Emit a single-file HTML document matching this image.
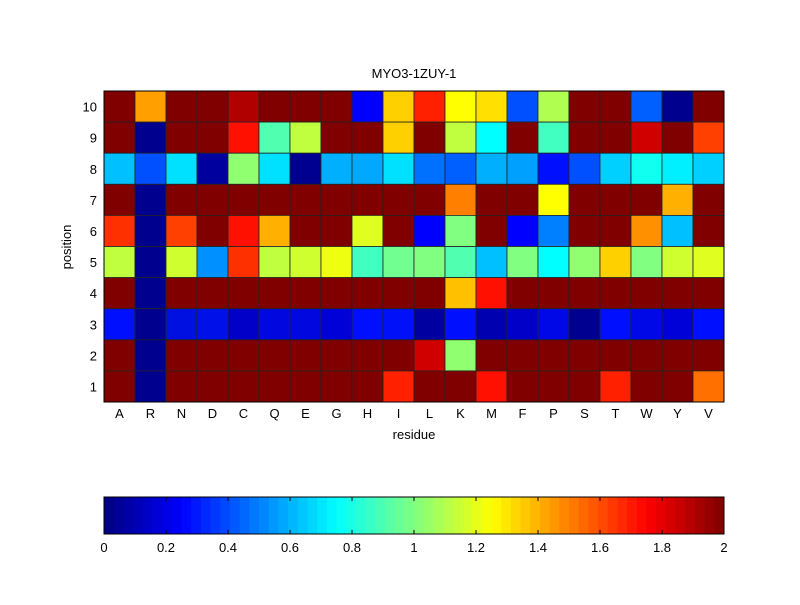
<!DOCTYPE html>
<html><head><meta charset="utf-8"><style>
body{margin:0;background:#fff;width:800px;height:600px;overflow:hidden}
svg text{font-family:"Liberation Sans",Arial,sans-serif;fill:#000}
</style></head><body>
<svg id="s" width="800" height="600" xmlns="http://www.w3.org/2000/svg">
<rect width="800" height="600" fill="#fff"/>
<g id="cells"></g>
<g id="cb"></g>
<rect x="104" y="91" width="620" height="311" fill="none" stroke="#000" stroke-width="1"/>
<rect x="104" y="497" width="620" height="37" fill="none" stroke="#000" stroke-width="1"/>
<text x="414" y="78" font-size="13" text-anchor="middle">MYO3-1ZUY-1</text>
<text x="414" y="439" font-size="13" text-anchor="middle">residue</text>
<text transform="translate(71,247) rotate(-90)" font-size="13" text-anchor="middle">position</text>
<g id="lab" font-size="13"></g>
</svg>
<script>
var D='#800000';
var rows=[
[D,'#ffa000',D,D,'#b00000',D,D,D,'#0000ff','#ffd000','#ff2000','#ffff00','#ffe000','#0050ff','#b0ff50',D,D,'#0060ff','#00008f',D],
[D,'#00008f',D,D,'#ff1000','#50ffb0','#c0ff40',D,D,'#ffd000',D,'#c0ff40','#00ffff',D,'#40ffc0',D,D,'#d00000',D,'#ff4000'],
['#00c0ff','#0050ff','#00e0ff','#00009f','#90ff70','#00e0ff','#000090','#00b0ff','#00a8ff','#00e0ff','#0070ff','#0060ff','#00b0ff','#00a0ff','#0010ff','#0050ff','#00d0ff','#10fff0','#00f0ff','#00d0ff'],
[D,'#00008f',D,D,D,D,D,D,D,D,D,'#ff8000',D,D,'#ffff00',D,D,D,'#ffb000',D],
['#ff3000','#00008f','#ff4000',D,'#ff1000','#ffb000',D,D,'#e0ff20',D,'#0000ff','#80ff80',D,'#0000ff','#0080ff',D,D,'#ff9000','#00c0ff',D],
['#c0ff40','#00008f','#d0ff30','#0090ff','#ff3000','#c0ff40','#d0ff30','#f0ff10','#40ffc0','#70ff90','#80ff80','#50ffb0','#00c0ff','#80ff80','#00ffff','#90ff70','#ffd000','#80ff80','#d0ff30','#e0ff20'],
[D,'#00008f',D,D,D,D,D,D,D,D,D,'#ffc000','#ff1000',D,D,D,D,D,D,D],
['#0010ff','#00008f','#0010e0','#0010e8','#0000c8','#0008e0','#0008e0','#0000d8','#0010ff','#0010f8','#0000a0','#0010ff','#0000b0','#0000c8','#0008e8','#000090','#0010ff','#0008e8','#0000d8','#0010ff'],
[D,'#00008f',D,D,D,D,D,D,D,D,'#d00000','#90ff70',D,D,D,D,D,D,D,D],
[D,'#00008f',D,D,D,D,D,D,D,'#ff2000',D,D,'#ff1000',D,D,D,'#ff2000',D,D,'#ff7000']];
var h='';
var cw=31,ch=31.1;
for(var r=0;r<10;r++)for(var c=0;c<20;c++)
h+='<rect x="'+(104+c*cw)+'" y="'+(91+r*ch)+'" width="'+cw+'" height="'+ch+'" fill="'+rows[r][c]+'" stroke="#222" stroke-width="0.8"/>';
document.getElementById('cells').innerHTML=h;
function jet(i,n){var v=(i+0.5)/n*4;function f(x){return Math.max(0,Math.min(1,x));}
var r=f(Math.min(v-1.5,-v+4.5)),g=f(Math.min(v-0.5,-v+3.5)),b=f(Math.min(v+0.5,-v+2.5));
return 'rgb('+Math.round(r*255)+','+Math.round(g*255)+','+Math.round(b*255)+')';}
h='';var w=620/64;
for(var i=0;i<64;i++)h+='<rect x="'+(104+i*w)+'" y="497" width="'+(w+0.5)+'" height="37" fill="'+jet(i,64)+'"/>';
for(var t=0;t<=10;t++){var x=104+t*62;h+='<line x1="'+x+'" y1="497" x2="'+x+'" y2="501" stroke="#000"/><line x1="'+x+'" y1="534" x2="'+x+'" y2="530" stroke="#000"/>';}
document.getElementById('cb').innerHTML=h;
h='';var res='ARNDCQEGHILKMFPSTWYV';
for(var c=0;c<20;c++)h+='<text x="'+(104+c*cw+cw/2)+'" y="418" text-anchor="middle">'+res[c]+'</text>';
for(var r=0;r<10;r++)h+='<text x="97" y="'+(91+r*ch+ch/2+5)+'" text-anchor="end">'+(10-r)+'</text>';
var tl=['0','0.2','0.4','0.6','0.8','1','1.2','1.4','1.6','1.8','2'];
for(var t=0;t<=10;t++)h+='<text x="'+(104+t*62)+'" y="552" text-anchor="middle">'+tl[t]+'</text>';
document.getElementById('lab').innerHTML=h;
</script>
</body></html>
